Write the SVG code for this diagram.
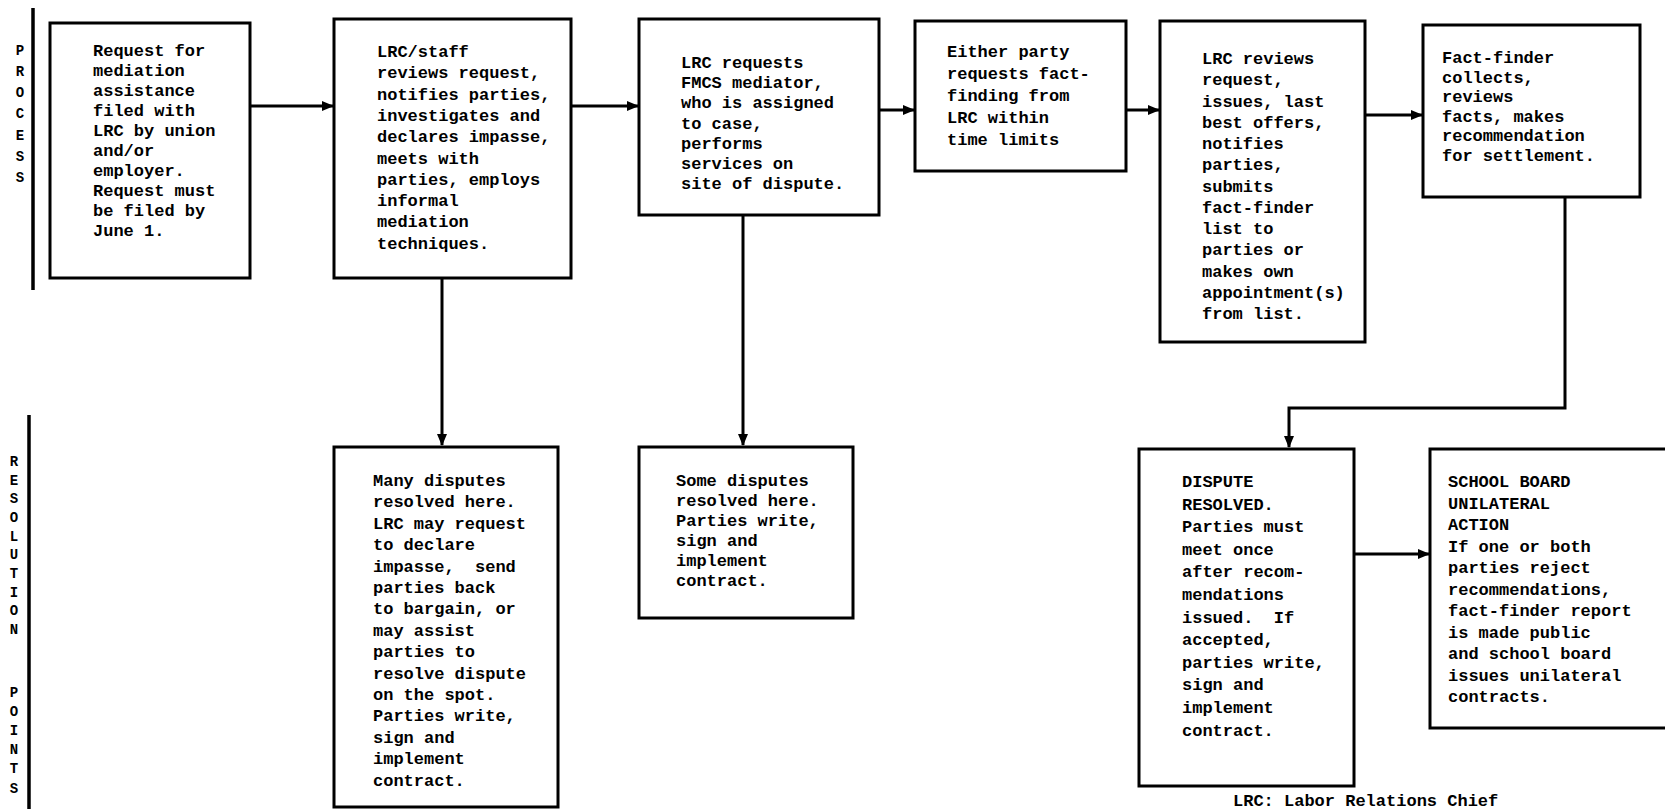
<svg xmlns="http://www.w3.org/2000/svg" width="1665" height="809" viewBox="0 0 1665 809">
  <style>
    .box { fill: #fff; stroke: #000; stroke-width: 3; }
    .t { font-family: "Liberation Mono", "DejaVu Sans Mono", monospace; font-weight: bold; font-size: 17px; fill: #000; }
    .side { font-family: "Liberation Mono", "DejaVu Sans Mono", monospace; font-weight: bold; font-size: 14px; fill: #000; text-anchor: middle; }
    .bar { stroke: #000; stroke-width: 3.5; fill: none; }
    .edge { stroke: #000; stroke-width: 3; fill: none; }
  </style>
  <defs>
    <marker id="arrow" viewBox="0 0 12 10" refX="11" refY="5" markerWidth="12" markerHeight="10" markerUnits="userSpaceOnUse" orient="auto">
      <path d="M0,0 L12,5 L0,10 Z" fill="#000"/>
    </marker>
  </defs>
  <rect width="1665" height="809" fill="#fff"/>

  <!-- lane labels -->
  <g id="lane-process">
    <line class="bar" x1="33" y1="8" x2="33" y2="290"/>
    <text class="side" x="20"><tspan x="20" y="55">P</tspan><tspan x="20" y="76">R</tspan><tspan x="20" y="97">O</tspan><tspan x="20" y="118">C</tspan><tspan x="20" y="140">E</tspan><tspan x="20" y="161">S</tspan><tspan x="20" y="182">S</tspan></text>
  </g>
  <g id="lane-resolution">
    <line class="bar" x1="29" y1="415" x2="29" y2="809"/>
    <text class="side" x="14"><tspan x="14" y="466">R</tspan><tspan x="14" y="485">E</tspan><tspan x="14" y="503">S</tspan><tspan x="14" y="522">O</tspan><tspan x="14" y="541">L</tspan><tspan x="14" y="559">U</tspan><tspan x="14" y="578">T</tspan><tspan x="14" y="597">I</tspan><tspan x="14" y="615">O</tspan><tspan x="14" y="634">N</tspan><tspan x="14" y="697">P</tspan><tspan x="14" y="716">O</tspan><tspan x="14" y="735">I</tspan><tspan x="14" y="754">N</tspan><tspan x="14" y="773">T</tspan><tspan x="14" y="793">S</tspan></text>
  </g>

  <!-- connectors -->
  <g id="connectors">
    <line class="edge" x1="250" y1="106" x2="333" y2="106" marker-end="url(#arrow)"/>
    <line class="edge" x1="571" y1="106" x2="638" y2="106" marker-end="url(#arrow)"/>
    <line class="edge" x1="879" y1="110" x2="914" y2="110" marker-end="url(#arrow)"/>
    <line class="edge" x1="1126" y1="110" x2="1159" y2="110" marker-end="url(#arrow)"/>
    <line class="edge" x1="1365" y1="115" x2="1422" y2="115" marker-end="url(#arrow)"/>
    <line class="edge" x1="442" y1="278" x2="442" y2="445" marker-end="url(#arrow)"/>
    <line class="edge" x1="743" y1="215" x2="743" y2="445" marker-end="url(#arrow)"/>
    <polyline class="edge" points="1565,198 1565,408 1289,408 1289,447" marker-end="url(#arrow)"/>
    <line class="edge" x1="1354" y1="554" x2="1429" y2="554" marker-end="url(#arrow)"/>
  </g>

  <!-- process row -->
  <g id="n-request">
    <rect class="box" x="50" y="23" width="200" height="255"/>
    <text class="t"><tspan x="93" y="56">Request for</tspan><tspan x="93" dy="20">mediation</tspan><tspan x="93" dy="20">assistance</tspan><tspan x="93" dy="20">filed with</tspan><tspan x="93" dy="20">LRC by union</tspan><tspan x="93" dy="20">and/or</tspan><tspan x="93" dy="20">employer.</tspan><tspan x="93" dy="20">Request must</tspan><tspan x="93" dy="20">be filed by</tspan><tspan x="93" dy="20">June 1.</tspan></text>
  </g>
  <g id="n-staff-review">
    <rect class="box" x="334" y="19" width="237" height="259"/>
    <text class="t"><tspan x="377" y="57">LRC/staff</tspan><tspan x="377" dy="21.3">reviews request,</tspan><tspan x="377" dy="21.3">notifies parties,</tspan><tspan x="377" dy="21.3">investigates and</tspan><tspan x="377" dy="21.3">declares impasse,</tspan><tspan x="377" dy="21.3">meets with</tspan><tspan x="377" dy="21.3">parties, employs</tspan><tspan x="377" dy="21.3">informal</tspan><tspan x="377" dy="21.3">mediation</tspan><tspan x="377" dy="21.3">techniques.</tspan></text>
  </g>
  <g id="n-fmcs">
    <rect class="box" x="639" y="19" width="240" height="196"/>
    <text class="t"><tspan x="681" y="68">LRC requests</tspan><tspan x="681" dy="20.2">FMCS mediator,</tspan><tspan x="681" dy="20.2">who is assigned</tspan><tspan x="681" dy="20.2">to case,</tspan><tspan x="681" dy="20.2">performs</tspan><tspan x="681" dy="20.2">services on</tspan><tspan x="681" dy="20.2">site of dispute.</tspan></text>
  </g>
  <g id="n-fact-request">
    <rect class="box" x="915" y="21" width="211" height="150"/>
    <text class="t"><tspan x="947" y="57">Either party</tspan><tspan x="947" dy="22">requests fact-</tspan><tspan x="947" dy="22">finding from</tspan><tspan x="947" dy="22">LRC within</tspan><tspan x="947" dy="22">time limits</tspan></text>
  </g>
  <g id="n-lrc-review">
    <rect class="box" x="1160" y="21" width="205" height="321"/>
    <text class="t"><tspan x="1202" y="64">LRC reviews</tspan><tspan x="1202" dy="21.25">request,</tspan><tspan x="1202" dy="21.25">issues, last</tspan><tspan x="1202" dy="21.25">best offers,</tspan><tspan x="1202" dy="21.25">notifies</tspan><tspan x="1202" dy="21.25">parties,</tspan><tspan x="1202" dy="21.25">submits</tspan><tspan x="1202" dy="21.25">fact-finder</tspan><tspan x="1202" dy="21.25">list to</tspan><tspan x="1202" dy="21.25">parties or</tspan><tspan x="1202" dy="21.25">makes own</tspan><tspan x="1202" dy="21.25">appointment(s)</tspan><tspan x="1202" dy="21.25">from list.</tspan></text>
  </g>
  <g id="n-fact-finder">
    <rect class="box" x="1423" y="25" width="217" height="172"/>
    <text class="t"><tspan x="1442" y="63">Fact-finder</tspan><tspan x="1442" dy="19.5">collects,</tspan><tspan x="1442" dy="19.5">reviews</tspan><tspan x="1442" dy="19.5">facts, makes</tspan><tspan x="1442" dy="19.5">recommendation</tspan><tspan x="1442" dy="19.5">for settlement.</tspan></text>
  </g>

  <!-- resolution row -->
  <g id="n-many-resolved">
    <rect class="box" x="334" y="447" width="224" height="360"/>
    <text class="t"><tspan x="373" y="486">Many disputes</tspan><tspan x="373" dy="21.4">resolved here.</tspan><tspan x="373" dy="21.4">LRC may request</tspan><tspan x="373" dy="21.4">to declare</tspan><tspan x="373" dy="21.4" xml:space="preserve">impasse,  send</tspan><tspan x="373" dy="21.4">parties back</tspan><tspan x="373" dy="21.4">to bargain, or</tspan><tspan x="373" dy="21.4">may assist</tspan><tspan x="373" dy="21.4">parties to</tspan><tspan x="373" dy="21.4">resolve dispute</tspan><tspan x="373" dy="21.4">on the spot.</tspan><tspan x="373" dy="21.4">Parties write,</tspan><tspan x="373" dy="21.4">sign and</tspan><tspan x="373" dy="21.4">implement</tspan><tspan x="373" dy="21.4">contract.</tspan></text>
  </g>
  <g id="n-some-resolved">
    <rect class="box" x="639" y="447" width="214" height="171"/>
    <text class="t"><tspan x="676" y="486">Some disputes</tspan><tspan x="676" dy="20">resolved here.</tspan><tspan x="676" dy="20">Parties write,</tspan><tspan x="676" dy="20">sign and</tspan><tspan x="676" dy="20">implement</tspan><tspan x="676" dy="20">contract.</tspan></text>
  </g>
  <g id="n-dispute-resolved">
    <rect class="box" x="1139" y="449" width="215" height="337"/>
    <text class="t"><tspan x="1182" y="487">DISPUTE</tspan><tspan x="1182" dy="22.6">RESOLVED.</tspan><tspan x="1182" dy="22.6">Parties must</tspan><tspan x="1182" dy="22.6">meet once</tspan><tspan x="1182" dy="22.6">after recom-</tspan><tspan x="1182" dy="22.6">mendations</tspan><tspan x="1182" dy="22.6" xml:space="preserve">issued.  If</tspan><tspan x="1182" dy="22.6">accepted,</tspan><tspan x="1182" dy="22.6">parties write,</tspan><tspan x="1182" dy="22.6">sign and</tspan><tspan x="1182" dy="22.6">implement</tspan><tspan x="1182" dy="22.6">contract.</tspan></text>
  </g>
  <g id="n-unilateral">
    <rect class="box" x="1430" y="449" width="250" height="279"/>
    <text class="t"><tspan x="1448" y="487">SCHOOL BOARD</tspan><tspan x="1448" dy="21.5">UNILATERAL</tspan><tspan x="1448" dy="21.5">ACTION</tspan><tspan x="1448" dy="21.5">If one or both</tspan><tspan x="1448" dy="21.5">parties reject</tspan><tspan x="1448" dy="21.5">recommendations,</tspan><tspan x="1448" dy="21.5">fact-finder report</tspan><tspan x="1448" dy="21.5">is made public</tspan><tspan x="1448" dy="21.5">and school board</tspan><tspan x="1448" dy="21.5">issues unilateral</tspan><tspan x="1448" dy="21.5">contracts.</tspan></text>
  </g>

  <!-- footnote along the lower edge -->
  <text class="t" x="1233" y="806">LRC: Labor Relations Chief</text>
</svg>
